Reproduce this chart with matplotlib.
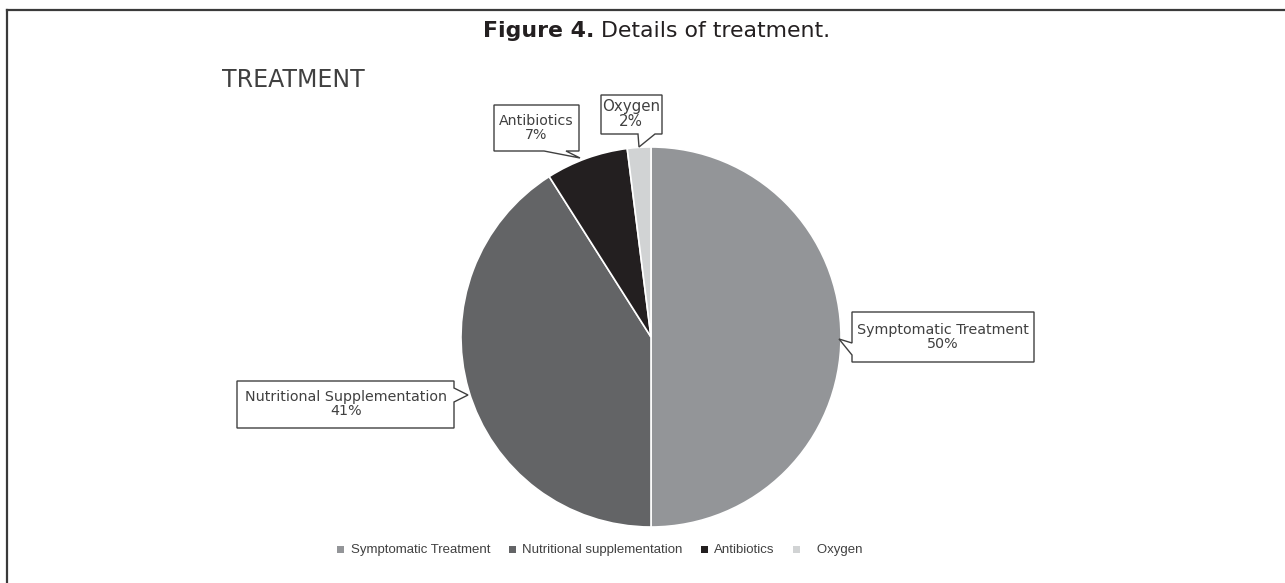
import matplotlib
matplotlib.use("Agg")
import matplotlib.pyplot as plt
from matplotlib.patches import Polygon
from matplotlib.lines import Line2D

# ---- data ----
categories = ["Symptomatic Treatment", "Nutritional supplementation", "Antibiotics", "Oxygen"]
callout_names = ["Symptomatic Treatment", "Nutritional Supplementation", "Antibiotics", "Oxygen"]
legend_labels = ["Symptomatic Treatment", "Nutritional supplementation", "Antibiotics", "   Oxygen"]
values = [50, 41, 7, 2]
colors = ["#939598", "#636466", "#231f20", "#d1d3d4"]

W, H = 1285, 583
fig = plt.figure(figsize=(W / 100, H / 100), dpi=100)
ax = fig.add_axes([0, 0, 1, 1])
ax.set_xlim(0, W)
ax.set_ylim(0, H)
ax.set_aspect("equal")
ax.axis("off")

def Y(y):
    return H - y

# frame (top and left edges visible)
ax.add_line(Line2D([7, W], [Y(10), Y(10)], color="#3a3a3a", lw=1.6))
ax.add_line(Line2D([7, 7], [Y(10), 0], color="#3a3a3a", lw=1.6))

# title
t1 = ax.text(483, Y(31), "Figure 4.", fontsize=15.8, fontweight="bold",
             color="#231f20", ha="left", va="center", family="DejaVu Sans")
ax.annotate(" Details of treatment.", xy=(1, 0), xycoords=t1, fontsize=15.8,
            color="#231f20", ha="left", va="bottom", family="DejaVu Sans")

ax.text(222, Y(80), "TREATMENT", fontsize=17, color="#404040", ha="left", va="center")

# pie
wedges, _ = ax.pie(values, colors=colors, startangle=90, counterclock=False,
                   center=(651, Y(337)), radius=190, frame=True,
                   wedgeprops=dict(edgecolor="white", linewidth=1.2))
ax.set_xlim(0, W)
ax.set_ylim(0, H)
ax.axis("off")

def callout(pts, text, tx, ty, fs):
    poly = Polygon([(x, Y(y)) for x, y in pts], closed=True, facecolor="white",
                   edgecolor="#404040", lw=1.0, zorder=5)
    ax.add_patch(poly)
    ax.text(tx, Y(ty), text, ha="center", va="center", fontsize=fs,
            color="#404040", zorder=6, linespacing=1.05)

pct = [f"{v}%" for v in values]

# Symptomatic (pointer on left edge)
callout([(852, 312), (1034, 312), (1034, 362), (852, 362), (852, 355), (839, 339), (852, 343)],
        f"{callout_names[0]}\n{pct[0]}", 943, 337, 10.3)
# Nutritional (pointer on right edge)
callout([(237, 381), (454, 381), (454, 388), (468, 395), (454, 402), (454, 428), (237, 428)],
        f"{callout_names[1]}\n{pct[1]}", 346, 404, 10.3)
# Antibiotics (pointer on bottom edge)
callout([(494, 105), (579, 105), (579, 151), (566, 151), (580, 158), (544, 151), (494, 151)],
        f"{callout_names[2]}\n{pct[2]}", 536, 128, 10.2)
# Oxygen (pointer on bottom edge)
callout([(601, 95), (662, 95), (662, 134), (655, 134), (639, 147), (638, 134), (601, 134)],
        f"{callout_names[3]}\n{pct[3]}", 631, 114, 10.8)

# legend
leg = ax.legend(wedges, legend_labels, loc="center", bbox_to_anchor=(600, Y(550)),
                bbox_transform=ax.transData, ncol=4, frameon=False,
                prop=dict(family="Liberation Sans", size=9.5),
                handlelength=0.6, handleheight=0.6, handletextpad=0.4,
                columnspacing=1.4, labelcolor="#404040")
for h in leg.legend_handles:
    h.set_edgecolor("none")
    h.set_width(5)
    h.set_height(5)

fig.savefig("out.png", dpi=100, facecolor="white")
